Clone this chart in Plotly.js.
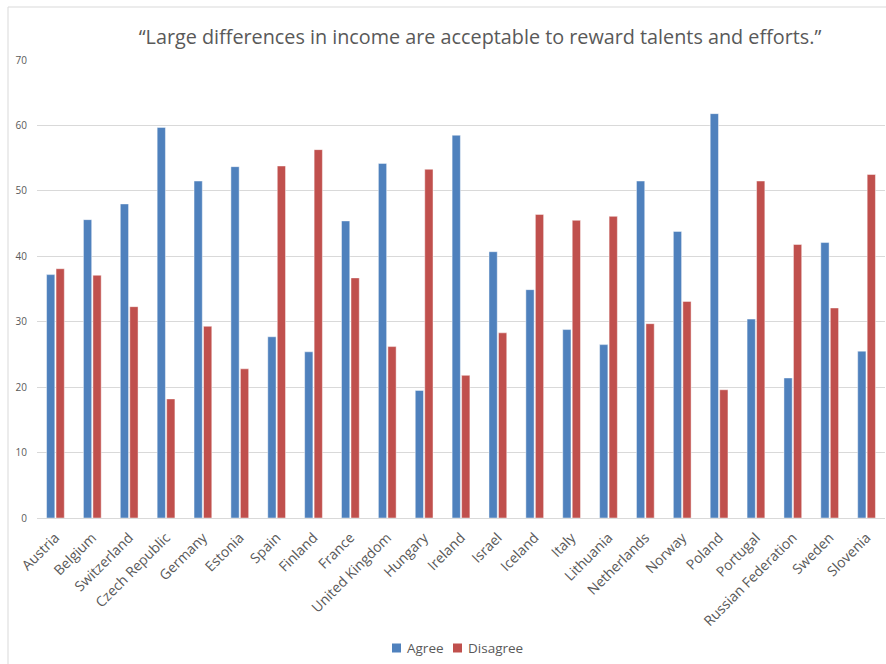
<!DOCTYPE html>
<html>
<head>
<meta charset="utf-8">
<script src="https://cdn.plot.ly/plotly-3.0.1.min.js"></script>
<style>html,body{margin:0;padding:0;background:#fff;}#chart{width:886px;height:664px;}</style>
</head>
<body>
<div id="chart"></div>
<script>
const countries = ["Austria","Belgium","Switzerland","Czech Republic","Germany","Estonia","Spain","Finland","France","United Kingdom","Hungary","Ireland","Israel","Iceland","Italy","Lithuania","Netherlands","Norway","Poland","Portugal","Russian Federation","Sweden","Slovenia"];
const agree = [37.2,45.6,48.0,59.7,51.5,53.7,27.7,25.4,45.4,54.2,19.5,58.5,40.7,34.9,28.8,26.5,51.5,43.8,61.8,30.4,21.4,42.1,25.5];
const disagree = [38.1,37.1,32.3,18.2,29.3,22.8,53.8,56.3,36.7,26.2,53.3,21.8,28.3,46.4,45.5,46.1,29.7,33.1,19.6,51.5,41.8,32.1,52.5];
const yTicks = [0,10,20,30,40,50,60,70];
const seriesNames = ["Agree","Disagree"];
const seriesColors = ["#4F81BD","#C0504D"];
const titleText = "\u201cLarge differences in income are acceptable to reward talents and efforts.\u201d";

const font = "'Open Sans', 'Liberation Sans', sans-serif";
const data = [
  {type:'bar', name:seriesNames[0], x:countries, y:agree, marker:{color:seriesColors[0], line:{color:'rgba(255,255,255,0.45)', width:1}}, hoverinfo:'none'},
  {type:'bar', name:seriesNames[1], x:countries, y:disagree, marker:{color:seriesColors[1], line:{color:'rgba(255,255,255,0.45)', width:1}}, hoverinfo:'none'}
];

// custom legend (squares + labels) in pixel-derived paper coords
const L = 37, W = 848, B = 518, H = 458;
const px = v => (v - L) / W;
const py = v => (B - v) / H;
const legendItems = [
  {sq: 392, tx: 405},
  {sq: 453, tx: 466}
];
const shapes = [
  {type:'line', xref:'paper', yref:'paper', x0:px(8), x1:px(8), y0:py(670), y1:py(7), line:{color:'#d9d9d9', width:1}},
  {type:'line', xref:'paper', yref:'paper', x0:px(8), x1:px(890), y0:py(7), y1:py(7), line:{color:'#d9d9d9', width:1}}
];
const annotations = [];
legendItems.forEach((it, i) => {
  shapes.push({type:'rect', xref:'paper', yref:'paper', x0:px(it.sq), x1:px(it.sq+9), y0:py(652.5), y1:py(643.5), fillcolor:seriesColors[i], line:{width:0}});
  annotations.push({xref:'paper', yref:'paper', x:px(it.tx), y:py(648), xanchor:'left', yanchor:'middle', showarrow:false, text:seriesNames[i], font:{size:13.5, color:'#595959', family:font}});
});

const layout = {
  width:886, height:664,
  margin:{l:37, r:1, t:60, b:146},
  paper_bgcolor:'#fff', plot_bgcolor:'#fff',
  font:{family:font, color:'#595959'},
  title:{text:titleText, font:{size:19.8, color:'#595959', family:font}, x:480/886, xanchor:'center', y:1-37/664, yanchor:'middle'},
  barmode:'group', bargap:0.485, bargroupgap:0.13,
  showlegend:false,
  xaxis:{type:'category', tickangle:-45, tickfont:{size:14, color:'#595959'}, showgrid:false, showline:true, linecolor:'#d9d9d9', linewidth:1, ticks:'', ticklabelstandoff:5, fixedrange:true},
  yaxis:{range:[0,70], tickvals:yTicks, ticktext:yTicks.map(String), showgrid:true, gridcolor:'#d9d9d9', gridwidth:1, zeroline:false, showline:false, tickfont:{size:10, color:'#595959'}, ticks:'', ticklabelstandoff:9, fixedrange:true},
  shapes:shapes,
  annotations:annotations
};
Plotly.newPlot('chart', data, layout, {displayModeBar:false, staticPlot:true});
</script>
</body>
</html>
